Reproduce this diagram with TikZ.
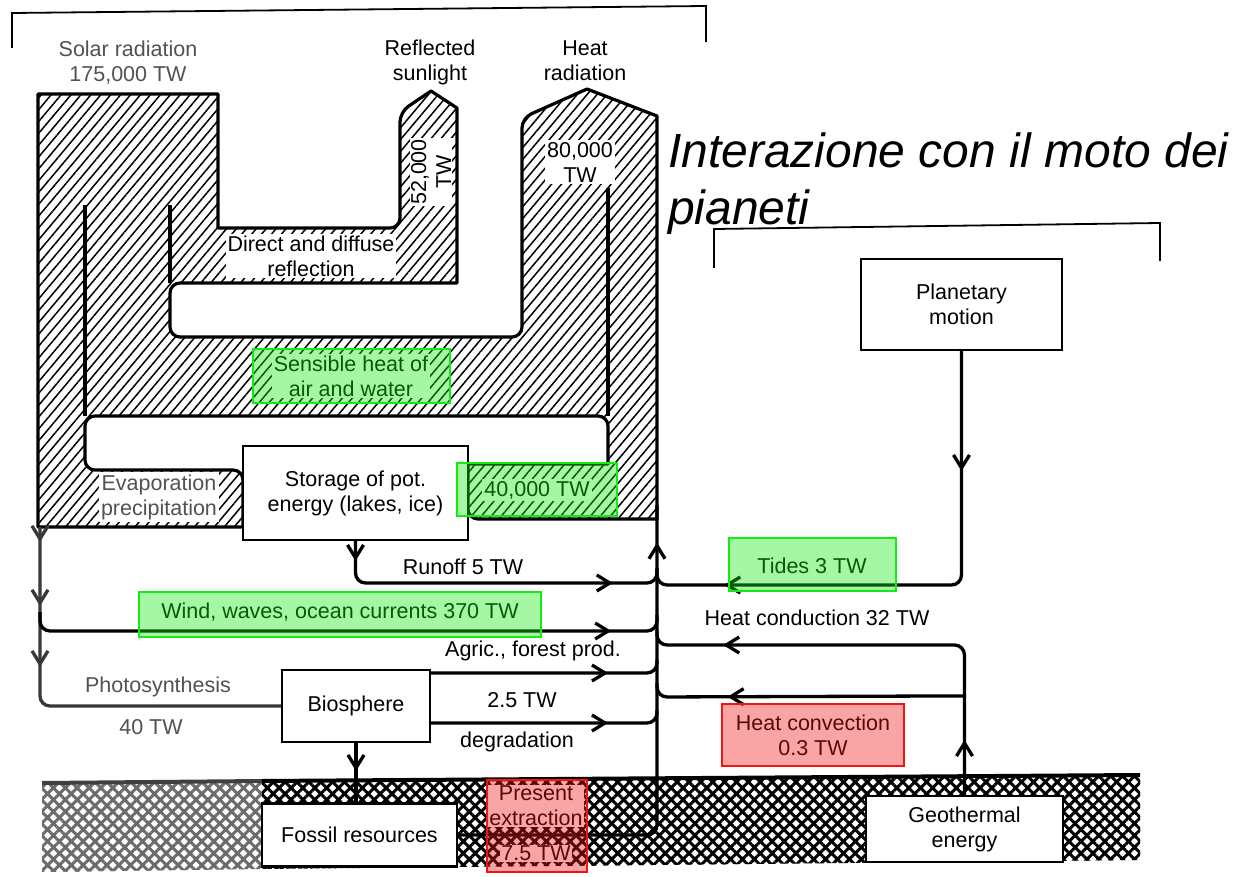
\documentclass[tikz,border=0pt]{standalone}
\usepackage{fontspec}
\setmainfont{Liberation Sans}
\usetikzlibrary{patterns.meta,arrows.meta,decorations.markings}

\definecolor{hlg}{RGB}{20,235,20}
\definecolor{hlr}{RGB}{240,20,20}

\tikzset{
  vtip/.tip={Straight Barb[length=13pt,width=16pt]},
  txt/.style={font=\fontsize{21.5}{25}\selectfont, align=center, inner sep=1pt},
  faded/.style={text=black!68},
  onhatch/.style={txt, fill=white, inner sep=2pt},
  hatchband/.style={pattern={Lines[angle=50,distance=7.6pt,line width=1.5pt]}, pattern color=black},
  bandedge/.style={line width=3.2pt, line join=round},
  box/.style={draw, line width=2.2pt, fill=white, txt, inner sep=0pt},
  flow/.style={line width=3.3pt, rounded corners=10pt},
  arrowat/.style={postaction={decorate, decoration={markings, mark=at position #1 with {\arrow{vtip}}}}},
  hlgreen/.style={draw=hlg, line width=2pt, fill=hlg, fill opacity=0.38},
  hlred/.style={draw=hlr, line width=2pt, fill=hlr, fill opacity=0.38},
  ground/.style={pattern={Lines[angle=#1,distance=8.4pt,line width=3pt]}},
  bracket/.style={line width=1.8pt}
}

\begin{document}
\begin{tikzpicture}[x=1pt,y=-1pt]
\useasboundingbox[fill=white] (0,0) rectangle (1234,877);

% ---- hatched radiation bands ----
\path[hatchband, draw, bandedge]
  (38,94) -- (218,94) -- (218,228) [rounded corners=10pt]
  -- (400,228) -- (400,112) [sharp corners]
  -- (431,91) -- (457,108) -- (457,283) [rounded corners=10pt]
  -- (170,283) -- (170,337) -- (522,337) -- (522,118) [sharp corners]
  -- (587,89) -- (657,116) -- (657,519) [rounded corners=10pt]
  -- (468,519) [sharp corners] -- (468,464) -- (608,464) [rounded corners=10pt]
  -- (608,416) -- (85,416) -- (85,470) -- (243,470) [sharp corners]
  -- (243,527) -- (38,527) [rounded corners=8pt] -- (38,300) [sharp corners] -- cycle;
\draw[bandedge] (85,205) -- (85,416);
\draw[bandedge] (170,205) -- (170,283);
\draw[bandedge] (608,188) -- (608,416);

% labels inside the bands
\node[onhatch] (refl) at (311,256) {Direct and diffuse\\reflection};
\node[onhatch, rotate=90, inner sep=1pt] (refltw) at (431,172) {52,000\\TW};
\node[onhatch] (heattw) at (580,162) {80,000\\TW};
\node[onhatch] (sens) at (351,376) {Sensible heat of\\air and water};
\node[onhatch, faded] (evap) at (159,497) {Evaporation\\precipitation};
\node[onhatch] (latent) at (537,490) {40,000 TW};

% headings above the bands
\node[txt, faded] (solar) at (128,63) {Solar radiation\\175,000 TW};
\node[txt] (reflsun) at (430,62) {Reflected\\sunlight};
\node[txt] (heatrad) at (585,61) {Heat\\radiation};

% ---- ground ----
\fill[ground=45, pattern color=black!58] (42,783) -- (262,781) -- (262,869) -- (42,872) -- cycle;
\fill[ground=-45, pattern color=black!58] (42,783) -- (262,781) -- (262,869) -- (42,872) -- cycle;
\fill[ground=45, pattern color=black] (262,781) -- (1140,775) -- (1140,860) -- (262,869) -- cycle;
\fill[ground=-45, pattern color=black] (262,781) -- (1140,775) -- (1140,860) -- (262,869) -- cycle;
\draw[line width=4pt, black!75] (42,783) -- (262,781);
\draw[line width=4pt] (262,781) -- (1140,775);

% ---- boxes ----
\node[box, minimum width=225pt, minimum height=94pt] (storage) at (355.5,493) {Storage of pot.\\energy (lakes, ice)};
\node[box, minimum width=148pt, minimum height=72pt] (bio) at (356,706) {Biosphere};
\node[box, minimum width=195pt, minimum height=63pt] (fossil) at (359.5,835) {Fossil resources};
\node[box, minimum width=201pt, minimum height=91pt] (planet) at (961.5,304.5) {Planetary\\motion};
\node[box, minimum width=197pt, minimum height=66pt] (geo) at (964.5,829) {Geothermal\\energy};

% ---- junction points ----
\coordinate (ltop) at (40,527);
\coordinate (lwind) at (40,612);
\coordinate (rtop) at (657,505);
\path (bio.east) ++(0,-33) coordinate (agr0);
\path (bio.east) ++(0,17) coordinate (deg0);
\path (geo.north) ++(0,-99) coordinate (conv0);

% ---- flows ----
\draw[flow, black!78, arrowat=15pt, arrowat=79pt, arrowat=140pt] (ltop) |- (bio.west);
\draw[flow, arrowat=586pt] (lwind) -- (40,631) -- (657,631) -- (657,615);
\draw[flow, arrowat=20pt, arrowat=295pt] (storage.south) |- (657,583) -- (657,568);
\draw[flow, arrowat=177pt] (agr0) -- (657,673) -- (657,660);
\draw[flow, arrowat=177pt] (deg0) -- (657,723) -- (657,710);
\draw[flow, arrowat=487pt] (fossil.east) -- (657,835) -- (rtop);
\draw[flow, arrowat=28pt] (bio.south) -- (bio.south |- fossil.north);
\draw[flow, arrowat=120pt, arrowat=467pt] (planet.south) |- (657,585) -- (657,570);
\draw[flow, arrowat=55pt, arrowat=387pt] (geo.north) |- (657,645) -- (657,630);
\draw[flow, arrowat=237pt] (conv0) -- (657,697) -- (657,683);

% ---- flow labels ----
\node[txt] (runoff) at (463,567) {Runoff 5 TW};
\node[txt] (wind) at (340,612) {Wind, waves, ocean currents 370 TW};
\node[txt] (agric) at (533,651) {Agric., forest prod.};
\node[txt, faded] (photo) at (158,687) {Photosynthesis};
\node[txt, faded] (photow) at (151,727) {40 TW};
\node[txt] (degw) at (522,700) {2.5 TW};
\node[txt] (deg) at (517,742) {degradation};
\node[txt, fill=white] (extr) at (536,806) {Present\\extraction};
\node[txt, fill=white] (extrw) at (536,853) {7.5 TW};
\node[txt] (tides) at (812,566) {Tides 3 TW};
\node[txt] (cond) at (817,618) {Heat conduction 32 TW};
\node[txt] (conv) at (813,735) {Heat convection\\0.3 TW};

% ---- highlights ----
\draw[hlgreen] (253,349) rectangle (450,403);
\draw[hlgreen] (457,463) rectangle (617,516);
\draw[hlgreen] (729,538) rectangle (896,591);
\draw[hlgreen] (139,592) rectangle (541,637);
\draw[hlred] (722,704) rectangle (904,766);
\draw[hlred] (487,780) rectangle (587,872);

% ---- heading and brackets ----
\node[anchor=base west, inner sep=0pt, font=\itshape\fontsize{48}{56}\selectfont] (title1) at (668,168) {Interazione con il moto dei};
\node[anchor=base west, inner sep=0pt, font=\itshape\fontsize{48}{56}\selectfont] (title2) at (668,225) {pianeti};
\draw[bracket] (12,48) -- (12,13) -- (706,6) -- (706,42);
\draw[bracket] (714,268) -- (714,229) -- (1160,223) -- (1160,261);
\end{tikzpicture}
\end{document}
